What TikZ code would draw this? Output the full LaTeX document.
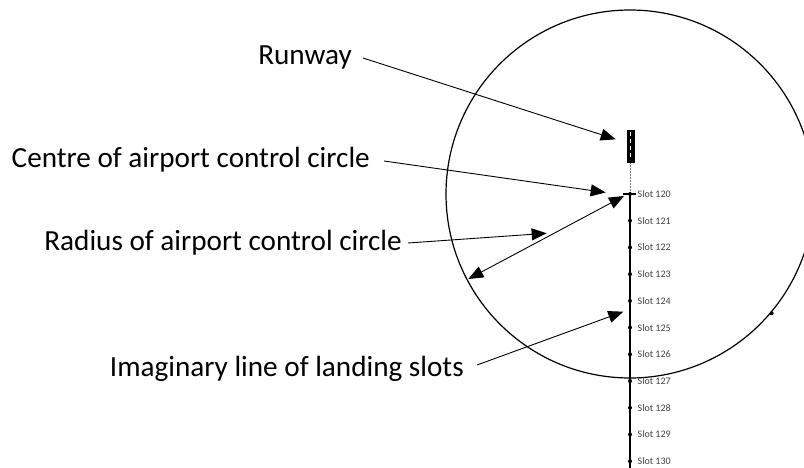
\documentclass[tikz,border=0pt]{standalone}
\usepackage{fontspec}
\setmainfont{Carlito}
\usetikzlibrary{arrows.meta}
\definecolor{slotgray}{HTML}{404040}
\tikzset{
  lbl/.style={font=\fontsize{29.2}{33}\selectfont, anchor=base east, inner sep=0pt, text=black},
  pointer/.style={line width=0.9pt, -{Triangle[length=15pt,width=12pt]}},
  dpointer/.style={line width=0.9pt, {Triangle[length=15pt,width=12pt]}-{Triangle[length=15pt,width=12pt]}},
  slotlbl/.style={font=\fontsize{10}{12}\selectfont, text=slotgray, anchor=west, inner sep=0pt},
  slotdot/.style={circle, fill=black, inner sep=0pt, minimum size=4pt}
}
\begin{document}
\begin{tikzpicture}[x=1pt,y=-1pt]
\useasboundingbox (0,0) rectangle (804,468);
\begin{scope}
\clip (0,0) rectangle (804,468);
% control circle
\draw[line width=1.2pt] (630,194) circle (184);
\node[slotdot, minimum size=4pt] (mark) at (771.7,313.3) {};
% slot line
\draw[line width=2pt] (630,194) -- (630,470);
\end{scope}
% runway
\draw[densely dotted, line width=0.5pt, gray] (630.5,162) -- (630.5,194);
\node[draw=black, fill=black, minimum width=7pt, minimum height=32pt, inner sep=0pt] (runway) at (630.5,146) {};
\draw[white, line width=0.8pt, dash pattern=on 4pt off 3pt] (630.5,132) -- (630.5,160);
% slot 120 tick
\draw[line width=1.5pt] (623,194) -- (636,194);
\coordinate (centre) at (630,194);
% slots
\foreach \i in {0,...,10} {
  \pgfmathsetmacro{\yy}{194+26.72*\i}
  \pgfmathtruncatemacro{\num}{120+\i}
  \node[slotdot] (s\num) at (630,\yy) {};
  \node[slotlbl] (t\num) at (637.5,\yy) {Slot \num};
}
% labels
\node[lbl] (lrunway) at (352,65) {Runway};
\node[lbl] (lcentre) at (370,168) {Centre of airport control circle};
\node[lbl] (lradius) at (402,251) {Radius of airport control circle};
\node[lbl] (limag) at (464,376) {Imaginary line of landing slots};
% connector ends
\coordinate (a1) at (363,58);
\coordinate (b1) at (615.7,139.3);
\coordinate (a2) at (384,161);
\coordinate (b2) at (605.7,192.5);
\coordinate (a3) at (408,243);
\coordinate (b3) at (546.7,233.3);
\coordinate (a4) at (468.3,279);
\coordinate (b4) at (624,196);
\coordinate (a5) at (477,365);
\coordinate (b5) at (623.3,311.7);
\draw[pointer] (a1) -- (b1);
\draw[pointer] (a2) -- (b2);
\draw[pointer] (a3) -- (b3);
\draw[dpointer] (a4) -- (b4);
\draw[pointer] (a5) -- (b5);
\end{tikzpicture}
\end{document}
